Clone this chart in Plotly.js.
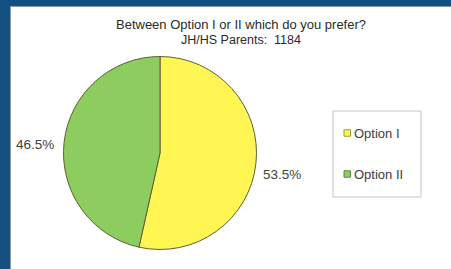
<!DOCTYPE html>
<html>
<head>
<meta charset="utf-8">
<script src="https://cdn.plot.ly/plotly-3.0.1.min.js"></script>
<style>
  html, body { margin: 0; padding: 0; background: #115080; width: 451px; height: 269px; overflow: hidden; }
  #frame { position: absolute; left: 10px; top: 6px; width: 441px; height: 263px; background: #ffffff;
           border-left: 1px solid #8a9bab; border-top: 1px solid #8a9bab; box-sizing: border-box; }
  #chart { position: absolute; left: 0; top: 0; width: 440px; height: 262px; }
</style>
</head>
<body>
<div id="frame"><div id="chart"></div></div>
<script>
// ---- data ----
const categories = ["Option I", "Option II"];
const shares = [53.5, 46.5];
const sliceColors = ["#fff653", "#8dcd5f"];
const titleLine1 = "Between Option I or II which do you prefer?";
const titleLine2 = "JH/HS Parents:\u00a0 1184";

// ---- layout helpers (pixel -> paper) ----
const W = 440, H = 262;
const px = x => x / W;
const py = y => 1 - y / H;

const cx = 149, cy = 146, r = 96.5;

const trace = {
  type: "pie",
  labels: categories,
  values: shares,
  sort: false,
  direction: "clockwise",
  rotation: 0,
  marker: { colors: sliceColors, line: { color: "#5f6035", width: 1 } },
  textinfo: "none",
  hoverinfo: "label+percent",
  showlegend: false,
  domain: { x: [px(cx - r), px(cx + r)], y: [py(cy + r), py(cy - r)] }
};

const textColor = "#404040";
const annotations = [];
const shapes = [];

// title line 2
annotations.push({
  text: titleLine2, xref: "paper", yref: "paper",
  x: px(230), y: py(33), xanchor: "center", yanchor: "middle",
  showarrow: false, font: { family: "Liberation Sans, Arial, sans-serif", size: 12.5, color: "#2a2a2a" }
});

// percentage labels
const labelPos = [ { x: 250, y: 167, anchor: "left" }, { x: 45, y: 137, anchor: "right" } ];
shares.forEach((v, i) => {
  annotations.push({
    text: v.toFixed(1) + "%", xref: "paper", yref: "paper",
    x: px(labelPos[i].x), y: py(labelPos[i].y), xanchor: labelPos[i].anchor, yanchor: "middle",
    showarrow: false, font: { family: "Liberation Sans, Arial, sans-serif", size: 13.5, color: textColor }
  });
});

// legend box
shapes.push({ type: "rect", xref: "paper", yref: "paper",
  x0: px(322), x1: px(410), y0: py(190), y1: py(104),
  line: { color: "#c4c4c4", width: 1 }, fillcolor: "rgba(0,0,0,0)" });
const legendY = [126, 167];
const swatchBorder = ["#9a9a3a", "#5f8a4a"];
categories.forEach((c, i) => {
  shapes.push({ type: "rect", xref: "paper", yref: "paper",
    x0: px(333), x1: px(339.5), y0: py(legendY[i] + 3.25), y1: py(legendY[i] - 3.25),
    line: { color: swatchBorder[i], width: 1 }, fillcolor: sliceColors[i] });
  annotations.push({
    text: c, xref: "paper", yref: "paper",
    x: px(341), y: py(legendY[i]), xanchor: "left", yanchor: "middle",
    showarrow: false, font: { family: "Liberation Sans, Arial, sans-serif", size: 13, color: textColor }
  });
});

const layout = {
  width: W, height: H,
  margin: { l: 0, r: 0, t: 0, b: 0, pad: 0 },
  paper_bgcolor: "#ffffff",
  plot_bgcolor: "#ffffff",
  showlegend: false,
  title: {
    text: titleLine1, xref: "container", yref: "container",
    x: px(230), y: py(17.5), xanchor: "center", yanchor: "middle",
    font: { family: "Liberation Sans, Arial, sans-serif", size: 13, color: "#2a2a2a" }
  },
  annotations: annotations,
  shapes: shapes
};

Plotly.newPlot("chart", [trace], layout, { displayModeBar: false, staticPlot: true });
</script>
</body>
</html>
